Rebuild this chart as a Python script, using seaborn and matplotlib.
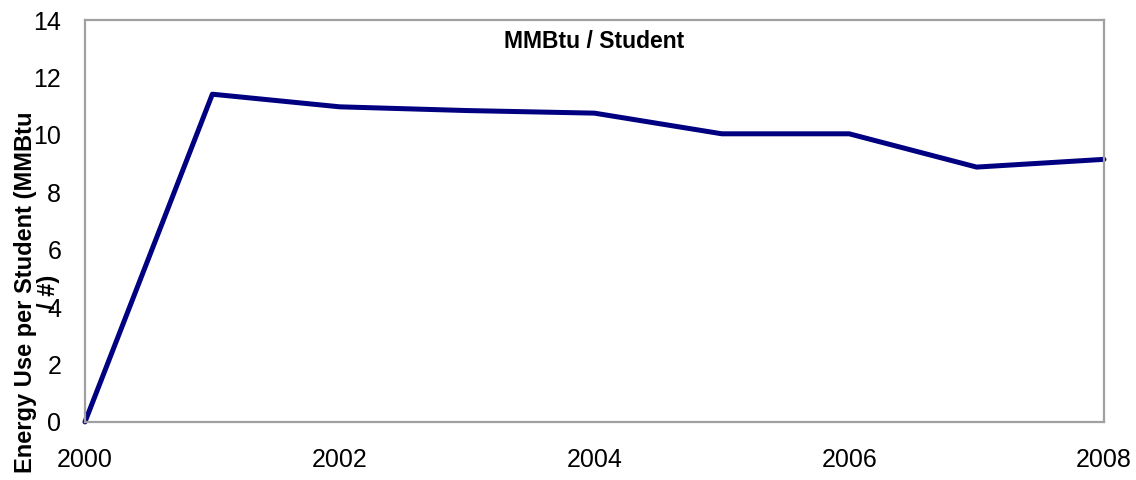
import numpy as np
import pandas as pd
import matplotlib
matplotlib.use('Agg')
import matplotlib.pyplot as plt
import seaborn as sns
from matplotlib.ticker import MultipleLocator

# ── Data ───────────────────────────────────────────────────────────────────────
years = [2000, 2001, 2002, 2003, 2004, 2005, 2006, 2007, 2008]
mmbtu_per_student = [0.0, 11.42, 10.98, 10.85, 10.76, 10.04, 10.04, 8.88, 9.15]

df = pd.DataFrame({'year': years, 'value': mmbtu_per_student})

# ── Style ──────────────────────────────────────────────────────────────────────
sns.set_style('white')
plt.rcParams['font.family'] = ['Liberation Sans', 'DejaVu Sans']

fig = plt.figure(figsize=(11.36, 4.8), dpi=100)
ax = fig.add_axes([0.0748, 0.121, 0.8970, 0.837])

sns.lineplot(data=df, x='year', y='value', ax=ax, color='#000080',
             linewidth=3.6, clip_on=False)

ax.set_xlim(2000, 2008)
ax.set_ylim(0, 14)
ax.xaxis.set_major_locator(MultipleLocator(2))
ax.xaxis.set_minor_locator(MultipleLocator(1))
ax.yaxis.set_major_locator(MultipleLocator(2))
ax.set_xlabel('')
ax.set_ylabel('')

for s in ax.spines.values():
    s.set_color('#a0a0a0')
    s.set_linewidth(1.6)

ax.tick_params(axis='both', which='both', direction='out', color='#a0a0a0',
               width=1.3, labelsize=18, labelcolor='black')
ax.tick_params(axis='x', which='major', length=8, pad=11)
ax.tick_params(axis='x', which='minor', length=8)
ax.tick_params(axis='y', which='major', length=6, pad=11)

ax.text(0.5, 0.975, 'MMBtu / Student', transform=ax.transAxes,
        ha='center', va='top', fontsize=16.5, fontweight='bold', color='black')

fig.text(37 / 1136, 1 - 292 / 480, 'Energy Use per Student (MMBtu\n/ #)',
         rotation=90, ha='center', va='center', fontsize=17,
         fontweight='bold', color='black', linespacing=0.95)

plt.savefig('out.png', dpi=100)
